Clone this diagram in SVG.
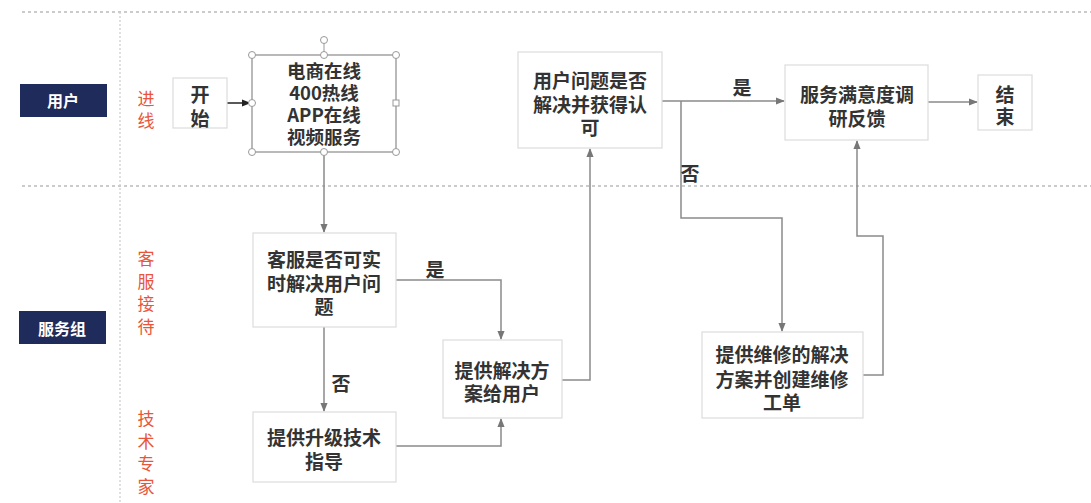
<svg xmlns="http://www.w3.org/2000/svg" width="1091" height="503" viewBox="0 0 1091 503">
<defs>
<style>
.t{font-family:"Noto Sans CJK SC","Noto Sans",sans-serif;font-size:19px;font-weight:bold;fill:#333;text-anchor:middle;dominant-baseline:central}
.lane{font-family:"Noto Sans CJK SC",sans-serif;font-size:17px;fill:#e8553a;text-anchor:middle;dominant-baseline:central}
.role{font-family:"Noto Sans CJK SC",sans-serif;font-size:16px;font-weight:bold;fill:#fff;text-anchor:middle;dominant-baseline:central}
.box{fill:#fff;stroke:#dcdcdc;stroke-width:1.2}
.c{fill:none;stroke:#8a8a8a;stroke-width:1.5}
.h{fill:#fff;stroke:#999;stroke-width:1}
</style>
<marker id="a" viewBox="0 0 10 10" refX="9" refY="5" markerWidth="6" markerHeight="6" orient="auto"><path d="M0,1 L10,5 L0,9 z" fill="#777"/></marker>
<marker id="ab" viewBox="0 0 10 10" refX="9" refY="5" markerWidth="6" markerHeight="6" orient="auto"><path d="M0,1 L10,5 L0,9 z" fill="#222"/></marker>
</defs>
<rect width="1091" height="503" fill="#fff"/>
<g id="lanes">
<line x1="22" y1="12" x2="1091" y2="12" stroke="#bbb" stroke-width="1.5" stroke-dasharray="3 3"/>
<line x1="22" y1="186" x2="1091" y2="186" stroke="#bbb" stroke-width="1.5" stroke-dasharray="3 3"/>
<line x1="120" y1="12" x2="120" y2="503" stroke="#ccc" stroke-width="1.2" stroke-dasharray="2 2"/>
<rect x="20" y="84" width="87" height="33" fill="#1f2b5a"/>
<text class="role" x="63" y="100">用户</text>
<rect x="19" y="311" width="87" height="33" fill="#1f2b5a"/>
<text class="role" x="62" y="328">服务组</text>
<text class="lane" x="146" y="97">进<tspan x="146" dy="22">线</tspan></text>
<text class="lane" x="146" y="257">客<tspan x="146" dy="22.7">服</tspan><tspan x="146" dy="22.7">接</tspan><tspan x="146" dy="22.7">待</tspan></text>
<text class="lane" x="146" y="417">技<tspan x="146" dy="22.7">术</tspan><tspan x="146" dy="22.7">专</tspan><tspan x="146" dy="22.7">家</tspan></text>
</g>
<g id="connectors">
<path class="c" d="M227,103 H250" style="stroke:#222" marker-end="url(#ab)"/>
<path class="c" d="M324,153 V232" marker-end="url(#a)"/>
<path class="c" d="M396,280 H501 V339" marker-end="url(#a)"/>
<path class="c" d="M324,327 V411" marker-end="url(#a)"/>
<path class="c" d="M396,446 H501 V419" marker-end="url(#a)"/>
<path class="c" d="M562,380 H590 V149" marker-end="url(#a)"/>
<path class="c" d="M662,101 H784" marker-end="url(#a)"/>
<path class="c" d="M681,101 V218 H782 V331" marker-end="url(#a)"/>
<path class="c" d="M863,375 H883 V236 H857 V141" marker-end="url(#a)"/>
<path class="c" d="M928,102 H977" marker-end="url(#a)"/>
<text class="t" x="435" y="268">是</text>
<text class="t" x="341" y="382">否</text>
<text class="t" x="742" y="86">是</text>
<text class="t" x="690" y="172">否</text>
</g>
<g id="start">
<rect class="box" x="173" y="78" width="54" height="50"/>
<text class="t" x="200" y="93">开<tspan x="200" dy="24">始</tspan></text>
</g>
<g id="channels">
<rect x="252" y="55" width="144" height="97" fill="#fff" stroke="#8a8a8a" stroke-width="1.2"/>
<text class="t" x="324" y="70" style="font-size:18.5px">电商在线<tspan x="324" dy="22">400热线</tspan><tspan x="324" dy="22">APP在线</tspan><tspan x="324" dy="22">视频服务</tspan></text>
<line x1="324" y1="43" x2="324" y2="55" stroke="#999" stroke-width="1"/>
<circle class="h" cx="324" cy="40" r="3.5"/>
<circle class="h" cx="252" cy="55" r="3.5"/>
<circle class="h" cx="324" cy="55" r="3.5"/>
<circle class="h" cx="396" cy="55" r="3.5"/>
<circle class="h" cx="252" cy="103" r="3.5"/>
<rect class="h" x="393" y="100" width="6" height="6"/>
<circle class="h" cx="252" cy="152" r="3.5"/>
<circle class="h" cx="324" cy="152" r="3.5"/>
<circle class="h" cx="396" cy="152" r="3.5"/>
</g>
<g id="cs-check">
<rect class="box" x="253" y="233" width="143" height="94"/>
<text class="t" x="324" y="258">客服是否可实<tspan x="324" dy="24">时解决用户问</tspan><tspan x="324" dy="23">题</tspan></text>
</g>
<g id="tech-guide">
<rect class="box" x="253" y="412" width="143" height="70"/>
<text class="t" x="324" y="436">提供升级技术<tspan x="324" dy="24">指导</tspan></text>
</g>
<g id="solution">
<rect class="box" x="443" y="340" width="119" height="78"/>
<text class="t" x="502" y="369">提供解决方<tspan x="502" dy="23">案给用户</tspan></text>
</g>
<g id="resolved-check">
<rect class="box" x="518" y="52" width="144" height="96"/>
<text class="t" x="590" y="79">用户问题是否<tspan x="590" dy="24">解决并获得认</tspan><tspan x="590" dy="23">可</tspan></text>
</g>
<g id="repair">
<rect class="box" x="702" y="332" width="161" height="86"/>
<text class="t" x="782" y="353">提供维修的解决<tspan x="782" dy="25">方案并创建维修</tspan><tspan x="782" dy="23">工单</tspan></text>
</g>
<g id="survey">
<rect class="box" x="785" y="65" width="143" height="75"/>
<text class="t" x="857" y="93">服务满意度调<tspan x="857" dy="24">研反馈</tspan></text>
</g>
<g id="end">
<rect class="box" x="978" y="75" width="54" height="55"/>
<text class="t" x="1005" y="93">结<tspan x="1005" dy="22">束</tspan></text>
</g>
</svg>
